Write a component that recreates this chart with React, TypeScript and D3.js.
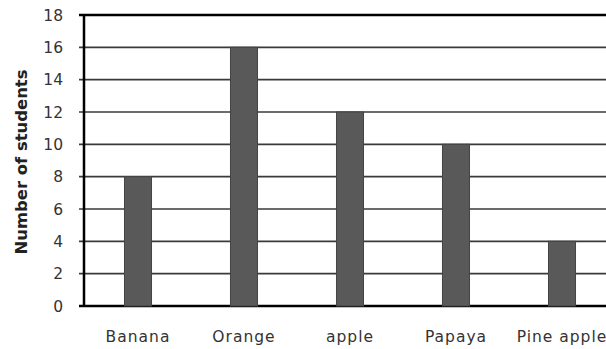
import React from "react";
import * as d3 from "d3";

const categories: string[] = ["Banana", "Orange", "apple", "Papaya", "Pine apple"];
const values: number[] = [8, 16, 12, 10, 4];
const yTicks: number[] = [0, 2, 4, 6, 8, 10, 12, 14, 16, 18];
const yLabel = "Number of students";

const W = 606;
const H = 349;
const M = { left: 85, top: 15, bottom: 306, right: 615 };

export default function App() {
  const x = d3
    .scaleBand<string>()
    .domain(categories)
    .range([M.left, M.right])
    .paddingInner(0.745)
    .paddingOuter(0.3725);
  const y = d3.scaleLinear().domain([0, 18]).range([M.bottom, M.top]);
  const font = "'DejaVu Sans', Verdana, sans-serif";

  return (
    <svg
      width={W}
      height={H}
      style={{ position: "absolute", left: 0, top: 0, background: "#fff" }}
    >
      <rect x={0} y={0} width={W} height={H} fill="#fff" />
      {yTicks.map((t) => (
        <g key={t}>
          <line
            x1={M.left - 6}
            x2={W}
            y1={y(t)}
            y2={y(t)}
            stroke={t === 18 || t === 0 ? "#000" : "#3a3a3a"}
            strokeWidth={t === 18 || t === 0 ? 2.5 : 1.6}
          />
          <text
            x={63}
            y={y(t)}
            dy="0.36em"
            textAnchor="end"
            fontFamily={font}
            fontSize={15.5}
            fill="#333"
          >
            {t}
          </text>
        </g>
      ))}
      {categories.map((c, i) => (
        <g key={c}>
          <rect
            x={x(c)}
            y={y(values[i])}
            width={x.bandwidth()}
            height={y(0) - y(values[i])}
            fill="#595959"
            stroke="#444"
            strokeWidth={1}
          />
          <text
            x={(x(c) as number) + x.bandwidth() / 2}
            y={336}
            dy="0.36em"
            textAnchor="middle"
            fontFamily={font}
            fontSize={15.5}
            letterSpacing={1}
            fill="#333"
          >
            {c}
          </text>
        </g>
      ))}
      <line x1={M.left - 1} x2={M.left - 1} y1={M.top - 1} y2={M.bottom + 1} stroke="#000" strokeWidth={2.5} />
      <text
        transform={`translate(21.5, 162) rotate(-90)`}
        textAnchor="middle"
        dy="0.36em"
        fontFamily={font}
        fontSize={15}
        fontWeight="bold"
        fill="#222"
        textLength={185}
        lengthAdjust="spacingAndGlyphs"
      >
        {yLabel}
      </text>
    </svg>
  );
}
